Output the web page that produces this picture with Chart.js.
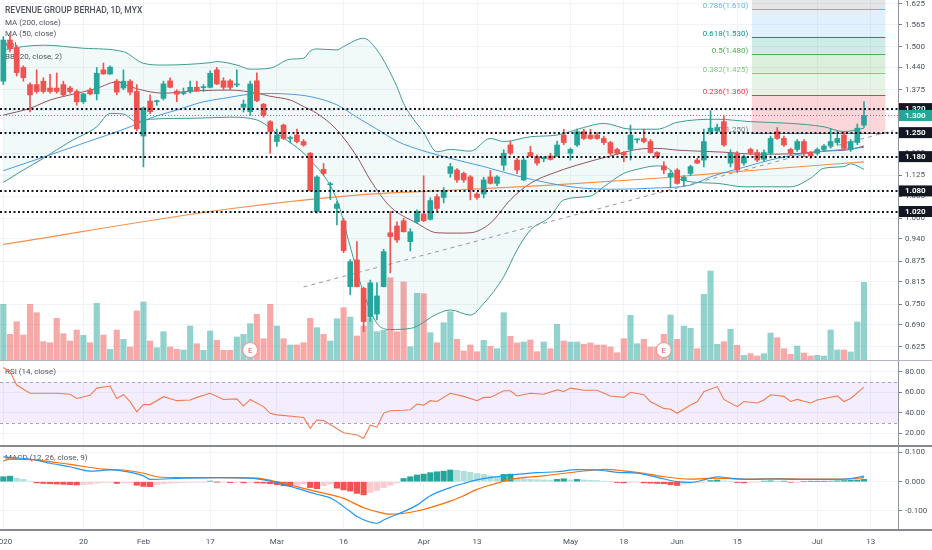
<!DOCTYPE html>
<html>
<head>
<meta charset="utf-8">
<script src="https://cdn.jsdelivr.net/npm/chart.js@4.4.1/dist/chart.umd.min.js"></script>
<style>
    body { margin: 0; background: #fff; }
    #wrap { position: relative; width: 932px; height: 550px; overflow: hidden; background: #fff; }
    canvas { position: absolute; left: 0; }
    .sep { position: absolute; left: 0; width: 932px; }
</style>
</head>
<body>
<div id="wrap">
    <canvas id="mainChart" width="932" height="361" style="top:0"></canvas>
    <canvas id="rsiChart" width="932" height="85" style="top:361px"></canvas>
    <canvas id="macdChart" width="932" height="104" style="top:446px"></canvas>
    <div class="sep" style="top:360px;height:1px;background:#b2b5be"></div>
    <div class="sep" style="top:445px;height:2px;background:#868993"></div>
    <div class="sep" style="top:529px;height:2px;background:#868993"></div>
</div>
<script>
// time axis: bar index -> label
const tickPos = [0, 12, 21, 31, 41, 51, 63, 71, 85, 93, 101, 110, 122, 130];
const tickText = ['2020', '20', 'Feb', '17', 'Mar', '16', 'Apr', '13', 'May', '18', 'Jun', '15', 'Jul', '13'];

// daily candles, 2 Jan - 10 Jul 2020
const open = [1.400,1.520,1.497,1.440,1.390,1.390,1.400,1.380,1.380,1.390, 1.380,1.370,1.340,1.374,1.363,1.433,1.421,1.400,1.380,1.400,
    1.370,1.240,1.342,1.340,1.350,1.401,1.371,1.364,1.371,1.382, 1.381,1.382,1.433,1.401,1.401,1.389,1.324,1.311,1.401,1.333,
    1.282,1.224,1.272,1.233,1.243,1.224,1.190,1.020,1.143,1.098, 1.029,0.993,0.801,0.879,0.796,0.713,0.721,0.801,0.958,0.978,
    0.993,0.932,0.990,1.013,0.997,1.063,1.061,1.131,1.141,1.131, 1.121,1.071,1.071,1.121,1.102,1.155,1.214,1.170,1.112,1.192,
    1.180,1.174,1.182,1.182,1.243,1.190,1.214,1.253,1.243,1.243, 1.233,1.221,1.201,1.192,1.201,1.229,1.233,1.224,1.192,1.153,
    1.121,1.141,1.110,1.131,1.170,1.170,1.253,1.255,1.282,1.161, 1.190,1.161,1.201,1.192,1.172,1.190,1.253,1.233,1.201,1.201,
    1.224,1.192,1.190,1.201,1.211,1.221,1.243,1.201,1.221,1.272];
const high = [1.530,1.535,1.505,1.445,1.395,1.433,1.410,1.420,1.424,1.400, 1.385,1.375,1.365,1.380,1.440,1.453,1.445,1.405,1.433,1.405,
    1.390,1.325,1.360,1.345,1.400,1.410,1.375,1.380,1.400,1.400, 1.390,1.430,1.440,1.410,1.405,1.433,1.345,1.400,1.424,1.335,
    1.285,1.260,1.275,1.240,1.260,1.230,1.192,1.125,1.160,1.105, 1.050,1.000,0.880,0.932,0.800,0.820,0.812,0.910,1.020,0.990,
    1.000,0.970,1.025,1.124,1.060,1.070,1.090,1.160,1.145,1.135, 1.125,1.075,1.120,1.140,1.125,1.200,1.225,1.175,1.175,1.210,
    1.185,1.180,1.190,1.225,1.260,1.205,1.260,1.260,1.260,1.250, 1.240,1.225,1.205,1.195,1.272,1.232,1.260,1.230,1.195,1.165,
    1.140,1.145,1.125,1.155,1.175,1.260,1.314,1.275,1.300,1.200, 1.195,1.185,1.205,1.200,1.200,1.240,1.265,1.240,1.205,1.230,
    1.230,1.195,1.205,1.215,1.260,1.255,1.250,1.230,1.275,1.340];
const low = [1.390,1.485,1.415,1.400,1.310,1.365,1.365,1.365,1.365,1.355, 1.365,1.330,1.335,1.360,1.345,1.420,1.420,1.360,1.375,1.360,
    1.255,1.150,1.305,1.330,1.345,1.380,1.340,1.360,1.365,1.370, 1.370,1.380,1.390,1.375,1.375,1.384,1.310,1.300,1.340,1.295,
    1.190,1.210,1.230,1.220,1.220,1.210,1.080,1.015,1.125,1.055, 0.981,0.900,0.777,0.800,0.670,0.700,0.704,0.800,0.841,0.930,
    0.960,0.905,0.985,0.990,0.995,1.020,1.045,1.120,1.105,1.105, 1.054,1.055,1.060,1.100,1.095,1.140,1.185,1.130,1.110,1.180,
    1.155,1.165,1.170,1.180,1.215,1.170,1.210,1.230,1.230,1.230, 1.215,1.185,1.185,1.165,1.170,1.220,1.220,1.190,1.175,1.130,
    1.089,1.100,1.095,1.125,1.160,1.150,1.245,1.250,1.210,1.150, 1.135,1.155,1.185,1.165,1.165,1.185,1.230,1.210,1.185,1.195,
    1.180,1.175,1.185,1.195,1.205,1.215,1.200,1.195,1.215,1.265];
const close = [1.520,1.495,1.425,1.410,1.360,1.370,1.370,1.370,1.370,1.360, 1.370,1.340,1.363,1.363,1.423,1.421,1.441,1.368,1.400,1.368,
    1.261,1.322,1.311,1.341,1.392,1.382,1.362,1.367,1.382,1.371, 1.383,1.423,1.392,1.382,1.382,1.392,1.333,1.392,1.343,1.301,
    1.253,1.243,1.233,1.236,1.224,1.214,1.081,1.121,1.131,1.100, 1.042,0.906,0.874,0.801,0.699,0.812,0.774,0.903,0.947,0.937,
    0.961,0.961,1.019,0.993,1.052,1.029,1.081,1.151,1.112,1.112, 1.083,1.061,1.112,1.102,1.121,1.190,1.190,1.141,1.170,1.182,
    1.161,1.176,1.172,1.214,1.221,1.201,1.253,1.233,1.233,1.233, 1.221,1.190,1.190,1.185,1.243,1.231,1.224,1.192,1.180,1.141,
    1.131,1.102,1.120,1.151,1.161,1.224,1.263,1.265,1.214,1.190, 1.141,1.180,1.190,1.170,1.192,1.233,1.233,1.214,1.190,1.224,
    1.190,1.182,1.201,1.211,1.224,1.233,1.204,1.224,1.263,1.300];
// volume, thousand shares
const volume = [567,267,393,260,567,483,193,183,427,273, 200,310,257,183,577,260,117,310,217,140,
    500,590,200,133,293,140,117,110,350,173, 107,300,207,107,107,240,267,373,467,223,
    567,350,223,160,160,183,427,333,267,200, 423,533,440,250,350,430,293,307,833,293,
    790,143,677,673,283,183,383,493,217,100, 160,93,207,147,123,483,247,180,190,210,
    93,190,123,367,200,190,190,167,180,160, 160,140,83,223,457,173,217,140,140,267,
    460,217,350,327,123,667,900,167,193,317, 157,57,73,50,73,280,233,123,67,150,
    80,50,57,50,310,110,110,90,390,787];

// indicator lines: [bar index, value]
const ma200Pts = [[0,0.924],[34,1.028],[53,1.068],[67,1.082],[82,1.097],[98,1.117],[113,1.141],[129,1.165]];
const ma50Pts = [[0,1.139],[7,1.185],[12,1.219],[19,1.267],[22,1.292],[26,1.316],[30,1.340],[33,1.350],[37,1.362],[40,1.364],
    [43,1.362],[46,1.355],[50,1.331],[53,1.295],[56,1.260],[59,1.225],[61,1.209],[67,1.175],[72,1.151],[77,1.124],
    [82,1.102],[87,1.088],[92,1.085],[97,1.088],[103,1.097],[106,1.121],[111,1.149],[116,1.175],[121,1.192],[126,1.201],[129,1.207]];
const bbBasisPts = [[0,1.301],[4,1.321],[7,1.345],[10,1.360],[14,1.379],[17,1.398],[19,1.384],[22,1.369],[24,1.365],[29,1.372],
    [34,1.374],[38,1.365],[40,1.356],[43,1.345],[45,1.326],[47,1.306],[50,1.258],[53,1.180],[55,1.112],[58,1.034],
    [62,0.986],[65,0.958],[68,0.957],[70,0.958],[73,0.986],[76,1.054],[79,1.102],[83,1.136],[87,1.161],[91,1.182],
    [95,1.201],[98,1.204],[101,1.199],[103,1.197],[108,1.193],[113,1.187],[118,1.188],[123,1.196],[127,1.201],[129,1.211]];
const bbUpperPts = [[0,1.491],[3,1.501],[6,1.505],[12,1.496],[18,1.486],[21,1.452],[24,1.447],[31,1.454],[32,1.457],[35,1.447],
    [37,1.435],[40,1.438],[43,1.464],[45,1.467],[46,1.488],[47,1.494],[50,1.491],[51,1.501],[54,1.525],[56,1.491],
    [59,1.384],[60,1.335],[63,1.250],[65,1.194],[67,1.201],[70,1.196],[73,1.233],[75,1.224],[79,1.238],[83,1.243],
    [87,1.265],[90,1.277],[94,1.260],[98,1.260],[101,1.280],[107,1.289],[112,1.282],[118,1.277],[123,1.267],[126,1.253],[129,1.263]];
const bbLowerPts = [[0,1.105],[3,1.141],[6,1.175],[10,1.224],[14,1.267],[16,1.306],[18,1.304],[20,1.282],[22,1.289],[29,1.292],
    [34,1.295],[38,1.287],[41,1.248],[46,1.170],[50,1.054],[52,0.917],[54,0.782],[56,0.694],[58,0.676],[61,0.679],
    [65,0.721],[67,0.733],[70,0.718],[72,0.752],[75,0.830],[77,0.908],[79,0.966],[82,1.005],[84,1.054],[88,1.065],
    [90,1.092],[93,1.131],[95,1.143],[98,1.153],[100,1.141],[101,1.116],[107,1.102],[111,1.092],[118,1.092],[121,1.117],
    [123,1.146],[126,1.151],[127,1.159],[129,1.143]];
const trendPts = [[45,0.800],[133.4,1.256]];

const priceTicks = [1.625,1.565,1.500,1.440,1.375,1.315,1.250,1.190,1.125,1.065,1.000,0.940,0.875,0.815,0.750,0.690,0.625];
const levels = [1.320, 1.250, 1.180, 1.080, 1.020];
const fibLevels = [0, 0.236, 0.382, 0.5, 0.618, 0.786, 1];
const fibPrices = [1.250, 1.360, 1.425, 1.480, 1.530, 1.610, 1.705];
const fibColors = ['#787b86', '#f23645', '#81c784', '#4caf50', '#089981', '#64b5f6', '#787b86'];
const fibStart = 112.2;
const fibEnd = 132.2;
const earnings = [37, 99];

const rsiPts = [[0,84],[1,80],[2,67],[4,59],[8,59],[10,58],[11,54],[13,57],[14,64],[16,66],[17,54],[18,57.6],[19,50.8],[20,41],
    [21,48],[22,48],[24,55.7],[26,51.8],[28,52.5],[29,55],[31,59],[33,53],[35,53.5],[36,46.6],[37,53],[39,46],[40,39.5],
    [41,38],[44,36.2],[45,35.5],[46,25],[47,33],[48,32.5],[51,20.6],[53,18.4],[54,15.2],[55,28],[56,26],[57,39.5],[58,42],
    [60,42.5],[61,43],[62,48.6],[63,47.5],[64,51.8],[65,51],[67,59],[69,56],[71,51.8],[72,55],[73,55],[75,61.5],[76,61.5],
    [77,56.4],[79,59],[81,58],[83,62.3],[84,60.7],[85,64],[87,62],[89,62],[91,56.4],[93,55],[94,60],[96,57.6],[97,50.8],
    [99,44.3],[100,43.5],[101,39.5],[103,47.5],[104,50.8],[105,60.6],[107,65.5],[108,53],[110,46],[111,51],[113,49.5],
    [114,52.5],[115,57.5],[117,56],[118,51],[119,53],[121,49.5],[122,52.5],[125,56.4],[126,51],[127,54],[129,65]];
const rsiTicks = [20, 40, 60, 80];

const macdPts = [[0,0.085],[5,0.074],[7,0.063],[10,0.051],[13,0.036],[16,0.040],[18,0.036],[21,0.020],[22,0.008],[27,0.012],
    [32,0.014],[37,0.012],[40,0.002],[42,-0.009],[44,-0.023],[47,-0.043],[49,-0.055],[52,-0.102],[53,-0.119],[56,-0.142],
    [57,-0.131],[62,-0.080],[64,-0.048],[67,-0.020],[69,-0.006],[71,0.006],[74,0.017],[77,0.025],[80,0.031],[83,0.034],
    [86,0.041],[89,0.040],[92,0.032],[95,0.029],[98,0.015],[101,0.000],[103,-0.002],[105,0.006],[107,0.017],[109,0.012],
    [112,0.008],[116,0.009],[118,0.008],[123,0.008],[127,0.011],[129,0.019]];
const signalPts = [[0,0.071],[1,0.077],[5,0.074],[10,0.059],[15,0.043],[18,0.040],[21,0.029],[23,0.017],[27,0.014],[34,0.014],
    [38,0.012],[41,0.000],[44,-0.017],[47,-0.034],[51,-0.057],[54,-0.089],[57,-0.108],[58,-0.111],[62,-0.100],[66,-0.074],
    [69,-0.048],[70,-0.036],[71,-0.026],[74,-0.005],[76,0.008],[81,0.020],[86,0.034],[90,0.042],[93,0.037],[96,0.029],
    [99,0.017],[103,0.009],[107,0.012],[111,0.009],[116,0.011],[121,0.009],[126,0.009],[129,0.014]];
const hist = [0.017,0.019,0.012,0.008,0.002,-0.004,-0.006,-0.007,-0.008,-0.009,
    -0.010,-0.011,-0.010,-0.008,-0.005,-0.003,-0.002,-0.006,-0.004,-0.003,
    -0.012,-0.016,-0.017,-0.010,-0.007,-0.005,-0.004,-0.003,-0.002,-0.001,
    -0.001,0.002,-0.001,-0.001,-0.003,-0.001,-0.004,-0.002,-0.004,-0.005,
    -0.007,-0.010,-0.014,-0.016,-0.012,-0.008,-0.020,-0.024,-0.014,-0.008,
    -0.022,-0.028,-0.032,-0.040,-0.045,-0.036,-0.030,-0.020,-0.012,-0.004,
    0.011,0.017,0.023,0.026,0.031,0.034,0.036,0.040,0.039,0.036,
    0.032,0.028,0.025,0.020,0.017,0.025,0.026,0.012,0.010,0.008,
    0.007,0.006,0.005,0.008,0.010,0.006,0.008,0.006,0.005,0.004,
    0.002,0.000,-0.003,-0.004,-0.001,-0.001,-0.004,-0.005,-0.006,-0.007,
    -0.010,-0.013,-0.008,-0.005,-0.003,-0.002,0.004,0.006,0.003,0.002,
    -0.003,-0.004,-0.002,-0.001,0.002,0.003,0.001,0.002,-0.002,-0.001,
    0.000,0.001,0.001,0.001,0.002,0.003,0.004,0.005,0.006,0.008];
const macdTicks = [-0.1, 0, 0.1];

Chart.defaults.font.family = 'Roboto, "Liberation Sans", sans-serif';
Chart.defaults.font.size = 8;
Chart.defaults.color = '#4c525e';

const GRID = '#f0f3fa';
const UP = '#26a69a';
const DOWN = '#ef5350';
const FONT = 'Roboto, "Liberation Sans", sans-serif';

const pts = a => a.map(p => ({ x: p[0], y: p[1] }));
const bars = close.map((c, i) => i);
const isUp = close.map((c, i) => c >= open[i]);

function timeScale(showLabels) {
    return {
        type: 'linear', bounds: 'data', min: -0.5, max: 134.1, offset: false,
        grid: { color: GRID, drawTicks: false, offset: false },
        border: { display: false },
        ticks: {
            display: showLabels, autoSkip: false, maxRotation: 0, padding: 7,
            color: '#4c525e', font: { size: 8 },
            callback: v => tickText[tickPos.indexOf(v)]
        },
        afterBuildTicks: s => { s.ticks = tickPos.map(v => ({ value: v })); },
        afterFit: s => { s.height = showLabels ? 20 : 0; s.paddingLeft = 0; s.paddingRight = 0; }
    };
}

function valueScale(min, max, ticks, digits) {
    return {
        position: 'right', bounds: 'data', min: min, max: max,
        grid: { color: GRID, tickLength: 4, tickColor: '#787b86' },
        border: { color: '#8f929b' },
        ticks: { padding: 3, color: '#4c525e', font: { size: 8 }, callback: v => v.toFixed(digits) },
        afterBuildTicks: s => { s.ticks = ticks.map(v => ({ value: v })); },
        afterFit: s => { s.width = 34; s.paddingTop = 0; s.paddingBottom = 0; }
    };
}

function lineSet(data, color, width, order, smooth) {
    return {
        type: 'line', data: pts(data), borderColor: color, borderWidth: width,
        pointRadius: 0, fill: false, order: order,
        cubicInterpolationMode: smooth ? 'monotone' : 'default', tension: 0
    };
}

function axisBox(ctx, chart, value, bg) {
    const py = chart.scales.y.getPixelForValue(value);
    const left = chart.chartArea.right + 1;
    ctx.fillStyle = bg;
    ctx.fillRect(left, py - 5.5, 932 - left, 11);
    ctx.fillStyle = '#ffffff';
    ctx.font = 'bold 8px ' + FONT;
    ctx.textAlign = 'left';
    ctx.textBaseline = 'middle';
    ctx.fillText(value.toFixed(3), 905, py + 0.5);
}

const mainDecor = {
    id: 'mainDecor',
    beforeDatasetsDraw(chart) {
        const { ctx, chartArea: a, scales: { x, y } } = chart;
        ctx.save();
        ctx.beginPath();
        ctx.rect(a.left, a.top, a.width, a.height);
        ctx.clip();

        // fibonacci retracement
        const x0 = x.getPixelForValue(fibStart);
        const x1 = x.getPixelForValue(fibEnd);
        ctx.globalAlpha = 0.2;
        for (let i = 0; i < fibPrices.length - 1; i++) {
            const yA = y.getPixelForValue(fibPrices[i]);
            const yB = y.getPixelForValue(fibPrices[i + 1]);
            ctx.fillStyle = fibColors[i + 1];
            ctx.fillRect(x0, yB, x1 - x0, yA - yB);
        }
        ctx.globalAlpha = 1;
        ctx.font = '8px ' + FONT;
        ctx.textAlign = 'right';
        ctx.textBaseline = 'alphabetic';
        fibPrices.forEach((p, i) => {
            const py = Math.round(y.getPixelForValue(p)) + 0.5;
            ctx.strokeStyle = fibColors[i];
            ctx.lineWidth = 1;
            ctx.beginPath();
            ctx.moveTo(x0, py);
            ctx.lineTo(x1, py);
            ctx.stroke();
            ctx.fillStyle = fibColors[i];
            ctx.fillText(fibLevels[i] + '(' + p.toFixed(3) + ')', x0 - 3.5, py - 2);
        });

        // legend
        ctx.textAlign = 'left';
        ctx.textBaseline = 'middle';
        ctx.fillStyle = '#50535e';
        ctx.font = '500 8.5px ' + FONT;
        ctx.fillText('REVENUE GROUP BERHAD, 1D, MYX', 5, 11);
        ctx.font = '8px ' + FONT;
        ['MA (200, close)', 'MA (50, close)', 'Vol', 'BB (20, close, 2)'].forEach((t, i) => {
            ctx.fillText(t, 5, [23, 34, 45, 57][i]);
        });
        ctx.restore();
    },
    afterDatasetsDraw(chart) {
        const { ctx, chartArea: a, scales: { x, y } } = chart;
        ctx.save();
        // support / resistance levels
        ctx.strokeStyle = '#131722';
        ctx.lineWidth = 2;
        ctx.setLineDash([2, 2.5]);
        levels.forEach(v => {
            const py = Math.round(y.getPixelForValue(v));
            ctx.beginPath();
            ctx.moveTo(a.left, py);
            ctx.lineTo(a.right, py);
            ctx.stroke();
        });
        // last price line
        const last = close[close.length - 1];
        const ly = Math.round(y.getPixelForValue(last)) + 0.5;
        ctx.strokeStyle = UP;
        ctx.lineWidth = 1;
        ctx.setLineDash([1, 2]);
        ctx.beginPath();
        ctx.moveTo(a.left, ly);
        ctx.lineTo(a.right, ly);
        ctx.stroke();
        ctx.setLineDash([]);

        // earnings markers
        earnings.forEach(i => {
            const px = x.getPixelForValue(i);
            const py = a.bottom - 11;
            ctx.beginPath();
            ctx.arc(px, py, 7.5, 0, Math.PI * 2);
            ctx.fillStyle = '#ffffff';
            ctx.fill();
            ctx.strokeStyle = '#f19c9a';
            ctx.lineWidth = 1.2;
            ctx.stroke();
            ctx.fillStyle = '#e35d5a';
            ctx.font = '8px ' + FONT;
            ctx.textAlign = 'center';
            ctx.textBaseline = 'middle';
            ctx.fillText('E', px, py + 0.5);
        });
        ctx.restore();
    },
    afterDraw(chart) {
        const ctx = chart.ctx;
        ctx.save();
        levels.forEach(v => axisBox(ctx, chart, v, '#131722'));
        axisBox(ctx, chart, close[close.length - 1], UP);
        ctx.restore();
    }
};

const mainChart = new Chart(document.getElementById('mainChart'), {
    type: 'bar',
    data: {
        datasets: [
            Object.assign(lineSet(bbUpperPts, '#3f9b8f', 1, 8, true), { fill: '+1', backgroundColor: 'rgba(38,166,154,0.06)' }),
            lineSet(bbLowerPts, '#3f9b8f', 1, 8, true),
            lineSet(bbBasisPts, '#95525b', 1, 6, true),
            lineSet(ma50Pts, '#4a9be0', 1, 5, true),
            lineSet(ma200Pts, '#f5914a', 1.2, 5, true),
            Object.assign(lineSet(trendPts, '#9598a1', 1, 5, false), { borderDash: [4, 4] }),
            {
                type: 'bar', yAxisID: 'yVol', order: 9, grouped: false, barThickness: 5.5,
                data: bars.map(i => ({ x: i, y: volume[i] })),
                backgroundColor: isUp.map(u => u ? 'rgba(38,166,154,0.5)' : 'rgba(239,83,80,0.5)')
            },
            {
                type: 'bar', order: 2, grouped: false, barThickness: 1,
                data: bars.map(i => ({ x: i, y: [low[i], high[i]] })),
                backgroundColor: isUp.map(u => u ? UP : DOWN)
            },
            {
                type: 'bar', order: 1, grouped: false, barThickness: 5, minBarLength: 1,
                data: bars.map(i => ({ x: i, y: [open[i], close[i]] })),
                backgroundColor: isUp.map(u => u ? UP : DOWN)
            }
        ]
    },
    options: {
        responsive: false, animation: false,
        layout: { padding: 0 },
        plugins: { legend: { display: false }, tooltip: { enabled: false } },
        scales: {
            x: timeScale(false),
            y: valueScale(0.58418, 1.63666, priceTicks, 3),
            yVol: { display: false, min: 0, max: 3610 }
        }
    },
    plugins: [mainDecor]
});

const rsiDecor = {
    id: 'rsiDecor',
    beforeDatasetsDraw(chart) {
        const { ctx, chartArea: a, scales: { y } } = chart;
        const yTop = y.getPixelForValue(70);
        const yBot = y.getPixelForValue(30);
        ctx.save();
        ctx.fillStyle = 'rgba(149,76,233,0.1)';
        ctx.fillRect(a.left, yTop, a.width, yBot - yTop);
        ctx.strokeStyle = '#a89cc8';
        ctx.lineWidth = 1;
        ctx.setLineDash([3, 3]);
        [yTop, yBot].forEach(py => {
            ctx.beginPath();
            ctx.moveTo(a.left, Math.round(py) + 0.5);
            ctx.lineTo(a.right, Math.round(py) + 0.5);
            ctx.stroke();
        });
        ctx.setLineDash([]);
        ctx.fillStyle = '#50535e';
        ctx.font = '8px ' + FONT;
        ctx.textBaseline = 'middle';
        ctx.fillText('RSI (14, close)', 5, 11);
        ctx.restore();
    }
};

const rsiChart = new Chart(document.getElementById('rsiChart'), {
    type: 'line',
    data: { datasets: [lineSet(rsiPts, '#f47b4f', 1.1, 1, false)] },
    options: {
        responsive: false, animation: false,
        layout: { padding: 0 },
        plugins: { legend: { display: false }, tooltip: { enabled: false } },
        scales: { x: timeScale(false), y: valueScale(7.7, 90.4, rsiTicks, 2) }
    },
    plugins: [rsiDecor]
});

const histColors = hist.map((v, i) => {
    const prev = i > 0 ? hist[i - 1] : v;
    if (v >= 0) return v >= prev ? '#26a69a' : '#b2dfdb';
    return v < prev ? '#f05350' : '#fccbcd';
});

const macdDecor = {
    id: 'macdDecor',
    beforeDatasetsDraw(chart) {
        const ctx = chart.ctx;
        ctx.save();
        ctx.fillStyle = '#50535e';
        ctx.font = '8px ' + FONT;
        ctx.textBaseline = 'middle';
        ctx.fillText('MACD (12, 26, close, 9)', 5, 12);
        ctx.restore();
    }
};

const macdChart = new Chart(document.getElementById('macdChart'), {
    type: 'bar',
    data: {
        datasets: [
            {
                type: 'bar', order: 3, grouped: false, barThickness: 5.5,
                data: bars.map(i => ({ x: i, y: hist[i] })),
                backgroundColor: histColors
            },
            lineSet(macdPts, '#2196f3', 1.2, 1, true),
            lineSet(signalPts, '#ff6d00', 1.2, 2, true)
        ]
    },
    options: {
        responsive: false, animation: false,
        layout: { padding: 0 },
        plugins: { legend: { display: false }, tooltip: { enabled: false } },
        scales: { x: timeScale(true), y: valueScale(-0.165, 0.122, macdTicks, 3) }
    },
    plugins: [macdDecor]
});
</script>
</body>
</html>
